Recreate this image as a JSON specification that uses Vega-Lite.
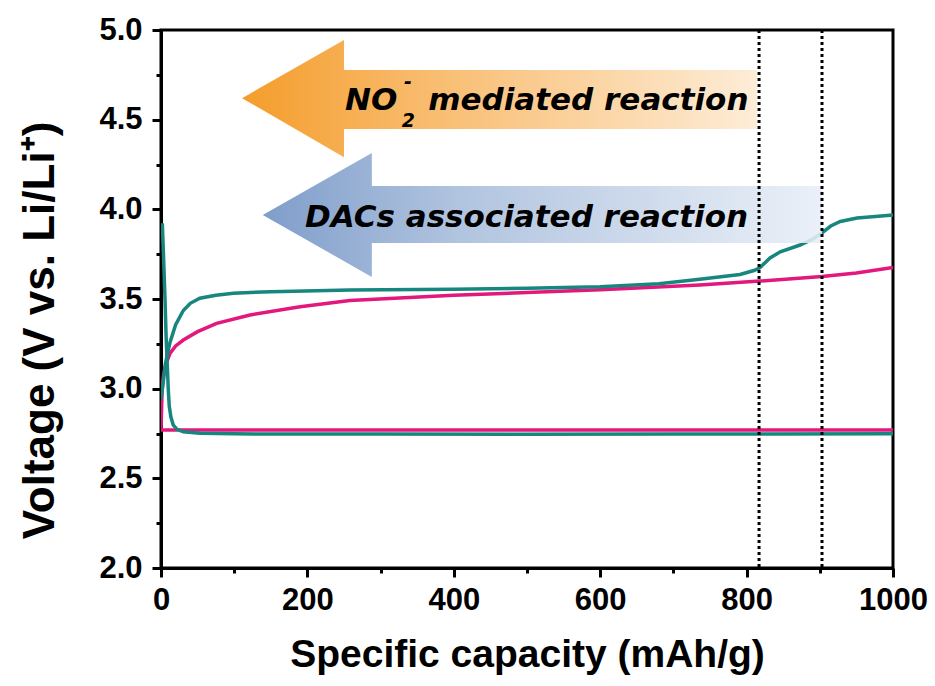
{
  "$schema": "https://vega.github.io/schema/vega-lite/v6.json",
  "width": 732,
  "height": 538,
  "autosize": {"type": "none"},
  "padding": {"left": 161, "top": 30, "right": 42, "bottom": 118},
  "background": "white",
  "config": {
    "view": {"stroke": "black", "strokeWidth": 3},
    "axis": {
      "domainColor": "black", "domainWidth": 3, "tickColor": "black", "tickWidth": 3,
      "labelFont": "Liberation Sans", "labelFontWeight": "bold", "labelFontSize": 31, "labelColor": "black",
      "titleFont": "Liberation Sans", "titleFontWeight": "bold", "titleFontSize": 39, "titleColor": "black",
      "grid": false, "labelOverlap": false, "labelFlush": false
    }
  },
  "datasets": {
    "curves": [
      {"cell": "pink", "curve": "pink_dis", "o": 0, "cap": 0, "v": 2.770},
      {"cell": "pink", "curve": "pink_dis", "o": 1, "cap": 1000, "v": 2.770},
      {"cell": "pink", "curve": "pink_chg", "o": 0, "cap": 0, "v": 2.773},
      {"cell": "pink", "curve": "pink_chg", "o": 1, "cap": 1.5, "v": 2.991},
      {"cell": "pink", "curve": "pink_chg", "o": 2, "cap": 3.2, "v": 3.067},
      {"cell": "pink", "curve": "pink_chg", "o": 3, "cap": 6, "v": 3.129},
      {"cell": "pink", "curve": "pink_chg", "o": 4, "cap": 12.3, "v": 3.197},
      {"cell": "pink", "curve": "pink_chg", "o": 5, "cap": 20, "v": 3.238},
      {"cell": "pink", "curve": "pink_chg", "o": 6, "cap": 30.5, "v": 3.271},
      {"cell": "pink", "curve": "pink_chg", "o": 7, "cap": 50, "v": 3.318},
      {"cell": "pink", "curve": "pink_chg", "o": 8, "cap": 76, "v": 3.364},
      {"cell": "pink", "curve": "pink_chg", "o": 9, "cap": 121.6, "v": 3.411},
      {"cell": "pink", "curve": "pink_chg", "o": 10, "cap": 190, "v": 3.457},
      {"cell": "pink", "curve": "pink_chg", "o": 11, "cap": 258, "v": 3.491},
      {"cell": "pink", "curve": "pink_chg", "o": 12, "cap": 400, "v": 3.521},
      {"cell": "pink", "curve": "pink_chg", "o": 13, "cap": 500, "v": 3.536},
      {"cell": "pink", "curve": "pink_chg", "o": 14, "cap": 600, "v": 3.552},
      {"cell": "pink", "curve": "pink_chg", "o": 15, "cap": 736, "v": 3.578},
      {"cell": "pink", "curve": "pink_chg", "o": 16, "cap": 818, "v": 3.600},
      {"cell": "pink", "curve": "pink_chg", "o": 17, "cap": 903, "v": 3.625},
      {"cell": "pink", "curve": "pink_chg", "o": 18, "cap": 950, "v": 3.645},
      {"cell": "pink", "curve": "pink_chg", "o": 19, "cap": 1000, "v": 3.676},
      {"cell": "teal", "curve": "teal_dis", "o": 0, "cap": 1.8, "v": 3.922},
      {"cell": "teal", "curve": "teal_dis", "o": 1, "cap": 3.5, "v": 3.734},
      {"cell": "teal", "curve": "teal_dis", "o": 2, "cap": 5.5, "v": 3.496},
      {"cell": "teal", "curve": "teal_dis", "o": 3, "cap": 7, "v": 3.288},
      {"cell": "teal", "curve": "teal_dis", "o": 4, "cap": 8.7, "v": 3.119},
      {"cell": "teal", "curve": "teal_dis", "o": 5, "cap": 10, "v": 2.991},
      {"cell": "teal", "curve": "teal_dis", "o": 6, "cap": 11.3, "v": 2.902},
      {"cell": "teal", "curve": "teal_dis", "o": 7, "cap": 13.5, "v": 2.842},
      {"cell": "teal", "curve": "teal_dis", "o": 8, "cap": 16.8, "v": 2.797},
      {"cell": "teal", "curve": "teal_dis", "o": 9, "cap": 22, "v": 2.773},
      {"cell": "teal", "curve": "teal_dis", "o": 10, "cap": 30.5, "v": 2.760},
      {"cell": "teal", "curve": "teal_dis", "o": 11, "cap": 53, "v": 2.751},
      {"cell": "teal", "curve": "teal_dis", "o": 12, "cap": 100, "v": 2.748},
      {"cell": "teal", "curve": "teal_dis", "o": 13, "cap": 300, "v": 2.747},
      {"cell": "teal", "curve": "teal_dis", "o": 14, "cap": 500, "v": 2.746},
      {"cell": "teal", "curve": "teal_dis", "o": 15, "cap": 700, "v": 2.747},
      {"cell": "teal", "curve": "teal_dis", "o": 16, "cap": 1000, "v": 2.748},
      {"cell": "teal", "curve": "teal_chg", "o": 0, "cap": 0, "v": 2.941},
      {"cell": "teal", "curve": "teal_chg", "o": 1, "cap": 3.2, "v": 3.040},
      {"cell": "teal", "curve": "teal_chg", "o": 2, "cap": 6, "v": 3.139},
      {"cell": "teal", "curve": "teal_chg", "o": 3, "cap": 12.3, "v": 3.258},
      {"cell": "teal", "curve": "teal_chg", "o": 4, "cap": 20, "v": 3.357},
      {"cell": "teal", "curve": "teal_chg", "o": 5, "cap": 30.5, "v": 3.436},
      {"cell": "teal", "curve": "teal_chg", "o": 6, "cap": 40, "v": 3.476},
      {"cell": "teal", "curve": "teal_chg", "o": 7, "cap": 53, "v": 3.504},
      {"cell": "teal", "curve": "teal_chg", "o": 8, "cap": 75, "v": 3.521},
      {"cell": "teal", "curve": "teal_chg", "o": 9, "cap": 98.8, "v": 3.532},
      {"cell": "teal", "curve": "teal_chg", "o": 10, "cap": 150, "v": 3.541},
      {"cell": "teal", "curve": "teal_chg", "o": 11, "cap": 258, "v": 3.550},
      {"cell": "teal", "curve": "teal_chg", "o": 12, "cap": 400, "v": 3.555},
      {"cell": "teal", "curve": "teal_chg", "o": 13, "cap": 500, "v": 3.560},
      {"cell": "teal", "curve": "teal_chg", "o": 14, "cap": 600, "v": 3.568},
      {"cell": "teal", "curve": "teal_chg", "o": 15, "cap": 680, "v": 3.585},
      {"cell": "teal", "curve": "teal_chg", "o": 16, "cap": 736, "v": 3.610},
      {"cell": "teal", "curve": "teal_chg", "o": 17, "cap": 791, "v": 3.637},
      {"cell": "teal", "curve": "teal_chg", "o": 18, "cap": 810, "v": 3.659},
      {"cell": "teal", "curve": "teal_chg", "o": 19, "cap": 818, "v": 3.674},
      {"cell": "teal", "curve": "teal_chg", "o": 20, "cap": 832, "v": 3.729},
      {"cell": "teal", "curve": "teal_chg", "o": 21, "cap": 846, "v": 3.763},
      {"cell": "teal", "curve": "teal_chg", "o": 22, "cap": 873, "v": 3.801},
      {"cell": "teal", "curve": "teal_chg", "o": 23, "cap": 890, "v": 3.833},
      {"cell": "teal", "curve": "teal_chg", "o": 24, "cap": 903, "v": 3.869},
      {"cell": "teal", "curve": "teal_chg", "o": 25, "cap": 915, "v": 3.907},
      {"cell": "teal", "curve": "teal_chg", "o": 26, "cap": 928, "v": 3.932},
      {"cell": "teal", "curve": "teal_chg", "o": 27, "cap": 951, "v": 3.952},
      {"cell": "teal", "curve": "teal_chg", "o": 28, "cap": 980, "v": 3.962},
      {"cell": "teal", "curve": "teal_chg", "o": 29, "cap": 1000, "v": 3.968}
    ],
    "orangeArrow": [
      {"cap": 110.7, "v": 4.620, "v2": 4.620},
      {"cap": 250, "v": 4.944, "v2": 4.291},
      {"cap": 250.1, "v": 4.777, "v2": 4.448},
      {"cap": 814, "v": 4.777, "v2": 4.448}
    ],
    "blueArrow": [
      {"cap": 139, "v": 3.969, "v2": 3.969},
      {"cap": 288, "v": 4.314, "v2": 3.623},
      {"cap": 288.1, "v": 4.130, "v2": 3.812},
      {"cap": 903, "v": 4.130, "v2": 3.812}
    ],
    "mainText": [
      {"cap": 251.4, "v": 4.554, "label": "NO"},
      {"cap": 365, "v": 4.554, "label": "mediated reaction"},
      {"cap": 196.7, "v": 3.901, "label": "DACs associated reaction"}
    ],
    "subText": [
      {"cap": 329, "v": 4.457, "label": "2"},
      {"cap": 332, "v": 4.675, "label": "-"}
    ],
    "dotted": [
      {"cap": 817},
      {"cap": 903}
    ]
  },
  "layer": [
    {
      "data": {"name": "curves"},
      "transform": [{"filter": "datum.cell === 'pink'"}],
      "mark": {"type": "line", "color": "#E2187C", "strokeWidth": 3.5, "clip": true},
      "encoding": {
        "x": {
          "field": "cap", "type": "quantitative",
          "scale": {"domain": [0, 1000], "nice": false, "zero": false},
          "axis": {
            "title": "Specific capacity (mAh/g)",
            "values": [0, 100, 200, 300, 400, 500, 600, 700, 800, 900, 1000],
            "format": "d",
            "labelExpr": "datum.value % 200 === 0 ? datum.label : ''",
            "tickSize": {"condition": {"test": "datum.value % 200 === 0", "value": 9}, "value": 5},
            "labelPadding": 8,
            "titlePadding": 20
          }
        },
        "y": {
          "field": "v", "type": "quantitative",
          "scale": {"domain": [2, 5], "nice": false, "zero": false},
          "axis": {
            "title": "Voltage (V vs. Li/Li⁺)",
            "values": [2, 2.25, 2.5, 2.75, 3, 3.25, 3.5, 3.75, 4, 4.25, 4.5, 4.75, 5],
            "labelExpr": "(datum.value * 2) % 1 === 0 ? format(datum.value, '.1f') : ''",
            "tickSize": {"condition": {"test": "(datum.value * 2) % 1 === 0", "value": 9}, "value": 5},
            "labelPadding": 10,
            "titleFontSize": 44,
            "titleX": -121,
            "titleY": 300,
            "titleBaseline": "middle"
          }
        },
        "detail": {"field": "curve"},
        "order": {"field": "o"}
      }
    },
    {
      "data": {"name": "curves"},
      "transform": [{"filter": "datum.cell === 'teal'"}],
      "mark": {"type": "line", "color": "#17867F", "strokeWidth": 3.5, "clip": true},
      "encoding": {
        "x": {"field": "cap", "type": "quantitative"},
        "y": {"field": "v", "type": "quantitative"},
        "detail": {"field": "curve"},
        "order": {"field": "o"}
      }
    },
    {
      "data": {"name": "orangeArrow"},
      "mark": {
        "type": "area", "opacity": 0.92, "orient": "vertical",
        "fill": {"gradient": "linear", "x1": 0, "x2": 1, "y1": 0, "y2": 0,
          "stops": [{"offset": 0, "color": "#F39418"}, {"offset": 0.35, "color": "#F8B560"}, {"offset": 1, "color": "#FDEBD4"}]}
      },
      "encoding": {
        "x": {"field": "cap", "type": "quantitative"},
        "y": {"field": "v", "type": "quantitative"},
        "y2": {"field": "v2"}
      }
    },
    {
      "data": {"name": "blueArrow"},
      "mark": {
        "type": "area", "opacity": 0.88, "orient": "vertical",
        "fill": {"gradient": "linear", "x1": 0, "x2": 1, "y1": 0, "y2": 0,
          "stops": [{"offset": 0, "color": "#6E90C3"}, {"offset": 0.35, "color": "#A6BCDB"}, {"offset": 1, "color": "#E8EEF7"}]}
      },
      "encoding": {
        "x": {"field": "cap", "type": "quantitative"},
        "y": {"field": "v", "type": "quantitative"},
        "y2": {"field": "v2"}
      }
    },
    {
      "data": {"name": "mainText"},
      "mark": {"type": "text", "font": "DejaVu Sans", "fontWeight": "bold", "fontStyle": "italic", "fontSize": 31, "align": "left", "baseline": "alphabetic", "color": "black"},
      "encoding": {
        "x": {"field": "cap", "type": "quantitative"},
        "y": {"field": "v", "type": "quantitative"},
        "text": {"field": "label"}
      }
    },
    {
      "data": {"name": "subText"},
      "mark": {"type": "text", "font": "DejaVu Sans", "fontWeight": "bold", "fontStyle": "italic", "fontSize": 19, "align": "left", "baseline": "alphabetic", "color": "black"},
      "encoding": {
        "x": {"field": "cap", "type": "quantitative"},
        "y": {"field": "v", "type": "quantitative"},
        "text": {"field": "label"}
      }
    },
    {
      "data": {"name": "dotted"},
      "mark": {"type": "rule", "color": "black", "strokeWidth": 3, "strokeDash": [3, 3]},
      "encoding": {
        "x": {"field": "cap", "type": "quantitative"}
      }
    }
  ]
}
